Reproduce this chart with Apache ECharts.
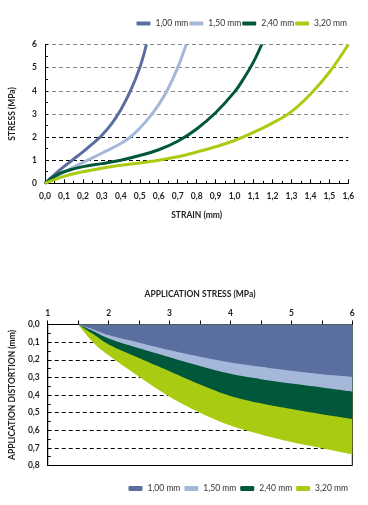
<!DOCTYPE html>
<html>
<head>
<meta charset="utf-8">
<script src="https://cdn.jsdelivr.net/npm/echarts@6/dist/echarts.min.js"></script>
<style>
html,body{margin:0;padding:0;background:#fff;}
#c{width:368px;height:505px;}
</style>
</head>
<body>
<div id="c"></div>
<script>
// ---- Data ----
var seriesNames = ['1,00 mm', '1,50 mm', '2,40 mm', '3,20 mm'];
var seriesColors = ['#5a6f9f', '#a5b8da', '#00573a', '#a9cc12'];

// Top chart: stress (MPa) vs strain (mm)
var strain100 = [0, 0.05, 0.1, 0.15, 0.2, 0.25, 0.3, 0.35, 0.4, 0.45, 0.5, 0.535];
var stress100 = [0, 0.38, 0.72, 1.04, 1.36, 1.7, 2.08, 2.56, 3.18, 3.98, 5.0, 6];
var strain150 = [0, 0.1, 0.2, 0.3, 0.4, 0.45, 0.5, 0.55, 0.6, 0.65, 0.7, 0.745];
var stress150 = [0, 0.48, 0.9, 1.3, 1.72, 2.0, 2.38, 2.85, 3.4, 4.1, 5.0, 6];
var strain240 = [0, 0.05, 0.1, 0.2, 0.3, 0.4, 0.5, 0.6, 0.7, 0.8, 0.9, 1.0, 1.05, 1.1, 1.143];
var stress240 = [0, 0.3, 0.5, 0.72, 0.85, 1.0, 1.2, 1.45, 1.82, 2.35, 3.05, 3.95, 4.55, 5.25, 6];
var strain320 = [0, 0.1, 0.2, 0.3, 0.4, 0.5, 0.6, 0.7, 0.8, 0.9, 1.0, 1.1, 1.2, 1.3, 1.4, 1.5, 1.6];
var stress320 = [0, 0.3, 0.5, 0.65, 0.78, 0.88, 1.0, 1.15, 1.35, 1.58, 1.85, 2.2, 2.6, 3.1, 3.85, 4.8, 6];

// Bottom chart: application distortion (mm) vs application stress (MPa)
var appStress = [1.5, 1.75, 2, 2.5, 3, 3.5, 4, 4.5, 5, 5.5, 6];
var dist100 = [0, 0.028, 0.06, 0.103, 0.145, 0.183, 0.215, 0.24, 0.263, 0.282, 0.297];
var dist150 = [0, 0.038, 0.079, 0.135, 0.186, 0.236, 0.28, 0.31, 0.335, 0.357, 0.38];
var dist240 = [0, 0.056, 0.113, 0.19, 0.265, 0.34, 0.405, 0.447, 0.48, 0.509, 0.536];
var dist320 = [0, 0.103, 0.175, 0.297, 0.41, 0.5, 0.573, 0.624, 0.667, 0.702, 0.737];

// Tick settings
var strainTicks = { min: 0, max: 1.6, interval: 0.1 };
var stressTicks = { min: 0, max: 6, interval: 1 };
var appStressTicks = { min: 1, max: 6, interval: 1 };
var distTicks = { min: 0, max: 0.8, interval: 0.1 };

function pairs(xs, ys) { return xs.map(function (x, i) { return [x, ys[i]]; }); }
function comma1(v) { return (Math.round(v * 10) / 10).toFixed(1).replace('.', ','); }

var FONT = 'Lato';
var labelStyle = { fontFamily: FONT, fontSize: 8.5, fontWeight: 'bold', color: '#222' };
var nameStyle = { fontFamily: FONT, fontSize: 8.5, fontWeight: 'bold', color: '#222' };

var topData = [pairs(strain100, stress100), pairs(strain150, stress150), pairs(strain240, stress240), pairs(strain320, stress320)];
var botData = [pairs(appStress, dist100), pairs(appStress, dist150), pairs(appStress, dist240), pairs(appStress, dist320)];

var series = [];
for (var i = 0; i < 4; i++) {
  series.push({
    name: seriesNames[i], type: 'line', xAxisIndex: 0, yAxisIndex: 0,
    data: topData[i], smooth: 0.4, showSymbol: false, symbol: 'none',
    lineStyle: { width: 3, color: seriesColors[i] }, itemStyle: { color: seriesColors[i] }, z: 3
  });
}
for (var j = 3; j >= 0; j--) {
  series.push({
    name: seriesNames[j], type: 'line', xAxisIndex: 1, yAxisIndex: 1,
    data: botData[j], smooth: 0.4, showSymbol: false, symbol: 'none',
    lineStyle: { width: 0, color: seriesColors[j] }, itemStyle: { color: seriesColors[j] },
    areaStyle: { color: seriesColors[j], opacity: 1 }, z: 3
  });
}

var chart = echarts.init(document.getElementById('c'), null, { renderer: 'canvas' });
chart.setOption({
  animation: false,
  backgroundColor: '#fff',
  color: seriesColors,
  legend: [
    { data: seriesNames, right: 16, top: 14, icon: 'roundRect', itemWidth: 14, itemHeight: 4, itemGap: 1,
      textStyle: { fontFamily: FONT, fontSize: 8.5, color: '#333' }, selectedMode: false },
    { data: seriesNames, right: 15, top: 479, icon: 'roundRect', itemWidth: 14, itemHeight: 5, itemGap: 4,
      textStyle: { fontFamily: FONT, fontSize: 8.5, color: '#333' }, selectedMode: false }
  ],
  grid: [
    { left: 45, top: 44.5, width: 303.3, height: 138.8, containLabel: false },
    { left: 46, top: 324.5, width: 306.3, height: 141, containLabel: false, show: true,
      borderColor: '#000', borderWidth: 1, backgroundColor: 'transparent' }
  ],
  xAxis: [
    { gridIndex: 0, type: 'value', min: strainTicks.min, max: strainTicks.max, interval: strainTicks.interval,
      name: 'STRAIN (mm)', nameLocation: 'middle', nameGap: 27, nameTextStyle: nameStyle,
      axisLine: { show: true, onZero: false, lineStyle: { color: '#000', width: 1 } },
      axisTick: { show: true, inside: true, length: 4, lineStyle: { color: '#000' } },
      minorTick: { show: true, splitNumber: 2, length: 2.5, lineStyle: { color: '#000' } },
      axisLabel: Object.assign({ margin: 8, formatter: comma1 }, labelStyle),
      splitLine: { show: false } },
    { gridIndex: 1, type: 'value', position: 'top', min: appStressTicks.min, max: appStressTicks.max, interval: appStressTicks.interval,
      name: 'APPLICATION STRESS (MPa)', nameLocation: 'middle', nameGap: 26, nameTextStyle: nameStyle,
      axisLine: { show: true, onZero: false, lineStyle: { color: '#000', width: 1 } },
      axisTick: { show: true, length: 4, lineStyle: { color: '#000' } },
      minorTick: { show: true, splitNumber: 2, length: 4, lineStyle: { color: '#000' } },
      axisLabel: Object.assign({ margin: 7 }, labelStyle),
      splitLine: { show: false } }
  ],
  yAxis: [
    { gridIndex: 0, type: 'value', min: stressTicks.min, max: stressTicks.max, interval: stressTicks.interval,
      name: 'STRESS (MPa)', nameLocation: 'middle', nameGap: 28, nameTextStyle: nameStyle,
      axisLine: { show: true, onZero: false, lineStyle: { color: '#000', width: 1 } },
      axisTick: { show: true, inside: true, length: 3, lineStyle: { color: '#000' } },
      minorTick: { show: true, splitNumber: 2, length: 3, lineStyle: { color: '#000' } },
      axisLabel: Object.assign({ margin: 8 }, labelStyle),
      splitLine: { show: true, showMinLine: true, lineStyle: { color: ['#000', '#000', '#000', '#888', '#888', '#888', '#888'], type: [4, 3], width: 1 } } },
    { gridIndex: 1, type: 'value', inverse: true, min: distTicks.min, max: distTicks.max, interval: distTicks.interval,
      name: 'APPLICATION DISTORTION (mm)', nameLocation: 'middle', nameGap: 30, nameTextStyle: nameStyle,
      axisLine: { show: true, onZero: false, lineStyle: { color: '#000', width: 1 } },
      axisTick: { show: true, inside: true, length: 3, lineStyle: { color: '#000' } },
      minorTick: { show: true, splitNumber: 2, length: 3, lineStyle: { color: '#000' } },
      axisLabel: Object.assign({ margin: 8, formatter: comma1 }, labelStyle),
      splitLine: { show: true, lineStyle: { color: '#000', type: [4, 3], width: 1 } } }
  ],
  series: series
});
</script>
</body>
</html>
